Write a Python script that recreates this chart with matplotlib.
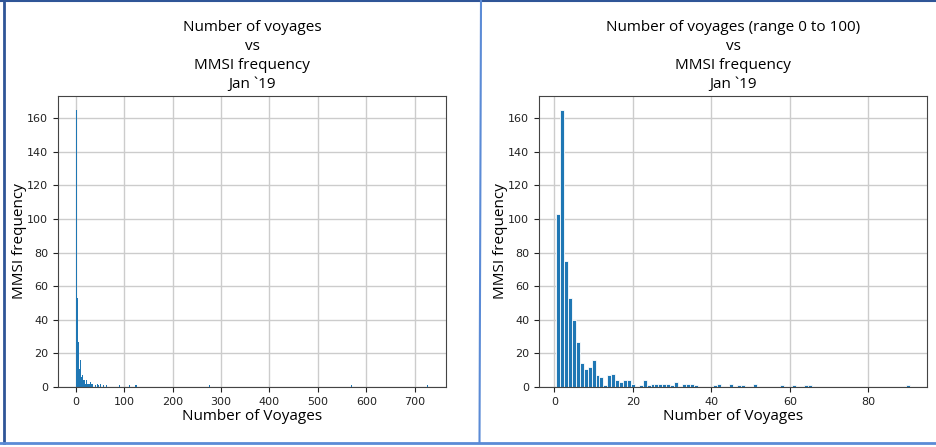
import matplotlib
matplotlib.use("Agg")
import matplotlib.pyplot as plt
from matplotlib.lines import Line2D

# number of voyages per MMSI -> how many MMSI made that many voyages (Jan 2019)
voyages = [1, 2, 3, 4, 5, 6, 7, 8, 9, 10,
           11, 12, 13, 14, 15, 16, 17, 18, 19, 20,
           22, 23, 24, 25, 26, 27, 28, 29, 30, 31,
           33, 34, 35, 36, 41, 42, 45, 47, 48, 51,
           58, 61, 64, 65, 90,
           111, 114, 124, 126, 228, 276, 569, 726]
mmsi_freq = [103, 165, 75, 53, 40, 27, 14, 11, 12, 16,
             7, 6, 1, 7, 8, 4, 3, 4, 4, 2,
             1, 4, 1, 2, 2, 2, 2, 2, 1, 3,
             2, 2, 2, 1, 1, 2, 2, 1, 1, 2,
             1, 1, 1, 1, 1,
             1, 1, 1, 1, 1, 1, 1, 1]

title_all = "Number of voyages\nvs\nMMSI frequency\nJan `19"
title_100 = "Number of voyages (range 0 to 100)\nvs\nMMSI frequency\nJan `19"

# subset used for the zoomed panel
v100 = [v for v in voyages if v <= 100]
f100 = [f for v, f in zip(voyages, mmsi_freq) if v <= 100]

BAR = "#1f77b4"
TXT = "Open Sans"

fig = plt.figure(figsize=(9.37, 4.47), dpi=100)
ax1 = fig.add_axes([58 / 937, 1 - 387 / 447, 388 / 937, 291 / 447])
ax2 = fig.add_axes([539 / 937, 1 - 387 / 447, 388 / 937, 291 / 447])

ax1.bar(voyages, mmsi_freq, width=1.2, color=BAR, linewidth=0)
ax2.bar(v100, f100, width=1.0, color=BAR, edgecolor="white", linewidth=0.6)

for ax, ttl in ((ax1, title_all), (ax2, title_100)):
    ax.set_title(ttl, fontsize=11, family=TXT, linespacing=1.35, pad=6)
    ax.set_xlabel("Number of Voyages", fontsize=11, family=TXT, labelpad=2)
    ax.set_ylabel("MMSI frequency", fontsize=11, family=TXT, labelpad=0)
    ax.grid(True, color="#cccccc", linewidth=1)
    ax.set_axisbelow(True)
    ax.tick_params(labelsize=8, colors="#222222", length=3.5)
    for s in ax.spines.values():
        s.set_color("#444444")
    ax.set_ylim(0, 173.25)

ax1.set_xticks(range(0, 701, 100))
ax1.set_xlim(-36.4, 764.4)
ax2.set_xticks(range(0, 81, 20))
ax2.set_xlim(-3.9, 94.9)

# frame lines around the two panels
dark = "#2f5597"
light = "#5b8bd6"
fig.add_artist(Line2D([0, 1], [1 - 0.5 / 447] * 2, color=dark, linewidth=1.5))
fig.add_artist(Line2D([4.3 / 937] * 2, [1, 1 - 443 / 447], color=dark, linewidth=2))
fig.add_artist(Line2D([0, 1], [1 - 443 / 447] * 2, color=light, linewidth=2))
fig.add_artist(Line2D([481 / 937, 479.5 / 937], [1, 1 - 443 / 447], color=light, linewidth=1.5))

fig.savefig("out.png", dpi=100)
